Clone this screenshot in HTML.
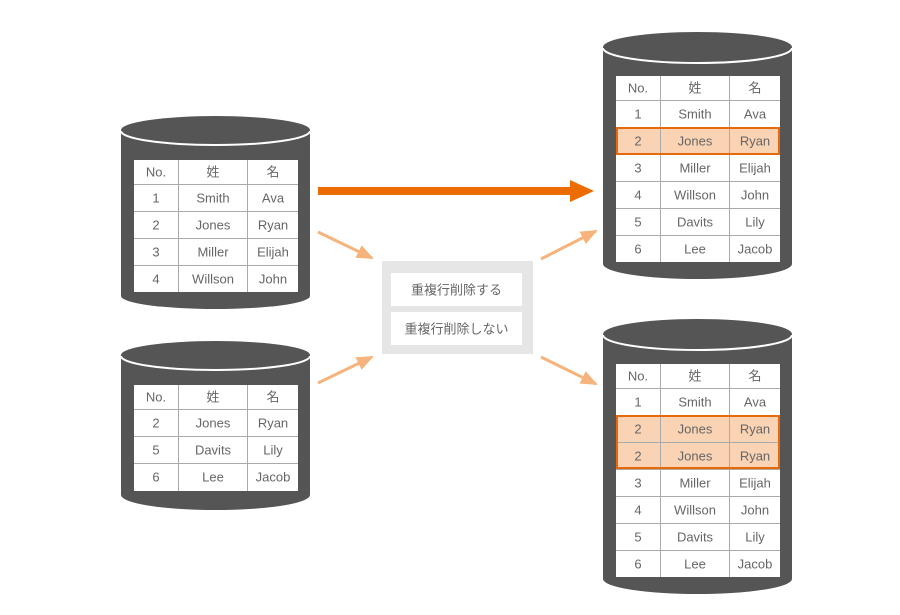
<!DOCTYPE html>
<html><head><meta charset="utf-8"><style>
html,body{margin:0;padding:0;background:#fff;}
svg{display:block;}
text{font-family:"Liberation Sans","Noto Sans CJK JP",sans-serif;font-size:13px;fill:#666;text-anchor:middle;dominant-baseline:central;}
</style></head><body>
<svg width="900" height="615" viewBox="0 0 900 615" xmlns="http://www.w3.org/2000/svg">
<defs>
<marker id="lh" markerWidth="17" markerHeight="14" refX="15" refY="7" orient="auto" markerUnits="userSpaceOnUse"><path d="M0,0 L17,7 L0,14 Z" fill="#f6b47c" stroke="none"/></marker>
</defs>

<!-- Left top cylinder -->
<path d="M121,130 L121,296 A94.5,13 0 0 0 310,296 L310,130 Z" fill="#555"/>
<ellipse cx="215.5" cy="130" rx="94.5" ry="14" fill="#555"/>
<path d="M121,131 A94.5,14 0 0 0 310,131" fill="none" stroke="#fff" stroke-width="2"/>
<g>
<rect x="134" y="160" width="164" height="132" fill="#fff"/>
<g stroke="#aaa" stroke-width="1">
<line x1="134" y1="184.5" x2="298" y2="184.5"/><line x1="134" y1="211.5" x2="298" y2="211.5"/><line x1="134" y1="238.5" x2="298" y2="238.5"/><line x1="134" y1="265.5" x2="298" y2="265.5"/>
<line x1="178.5" y1="160" x2="178.5" y2="292"/><line x1="247.5" y1="160" x2="247.5" y2="292"/>
</g>
<text x="156" y="172">No.</text><text x="213" y="172">姓</text><text x="273" y="172">名</text>
<text x="156" y="198">1</text><text x="213" y="198">Smith</text><text x="273" y="198">Ava</text>
<text x="156" y="225">2</text><text x="213" y="225">Jones</text><text x="273" y="225">Ryan</text>
<text x="156" y="252">3</text><text x="213" y="252">Miller</text><text x="273" y="252">Elijah</text>
<text x="156" y="279">4</text><text x="213" y="279">Willson</text><text x="273" y="279">John</text>
</g>

<!-- Left bottom cylinder -->
<path d="M121,355 L121,495 A94.5,15 0 0 0 310,495 L310,355 Z" fill="#555"/>
<ellipse cx="215.5" cy="355" rx="94.5" ry="14" fill="#555"/>
<path d="M121,356 A94.5,14 0 0 0 310,356" fill="none" stroke="#fff" stroke-width="2"/>
<g>
<rect x="134" y="385" width="164" height="106" fill="#fff"/>
<g stroke="#aaa" stroke-width="1">
<line x1="134" y1="409.5" x2="298" y2="409.5"/><line x1="134" y1="436.5" x2="298" y2="436.5"/><line x1="134" y1="463.5" x2="298" y2="463.5"/>
<line x1="178.5" y1="385" x2="178.5" y2="491"/><line x1="247.5" y1="385" x2="247.5" y2="491"/>
</g>
<text x="156" y="397">No.</text><text x="213" y="397">姓</text><text x="273" y="397">名</text>
<text x="156" y="423">2</text><text x="213" y="423">Jones</text><text x="273" y="423">Ryan</text>
<text x="156" y="450">5</text><text x="213" y="450">Davits</text><text x="273" y="450">Lily</text>
<text x="156" y="477">6</text><text x="213" y="477">Lee</text><text x="273" y="477">Jacob</text>
</g>

<!-- Right top cylinder -->
<path d="M603,47 L603,264 A94.5,15 0 0 0 792,264 L792,47 Z" fill="#555"/>
<ellipse cx="697.5" cy="47" rx="94.5" ry="15" fill="#555"/>
<path d="M603,48 A94.5,15 0 0 0 792,48" fill="none" stroke="#fff" stroke-width="2"/>
<g>
<rect x="616" y="76" width="164" height="186" fill="#fff"/>
<rect x="617" y="128" width="162" height="26" fill="#f9d3b3"/>
<g stroke="#aaa" stroke-width="1">
<line x1="616" y1="100.5" x2="780" y2="100.5"/><line x1="616" y1="127.5" x2="780" y2="127.5"/><line x1="616" y1="154.5" x2="780" y2="154.5"/><line x1="616" y1="181.5" x2="780" y2="181.5"/><line x1="616" y1="208.5" x2="780" y2="208.5"/><line x1="616" y1="235.5" x2="780" y2="235.5"/>
<line x1="660.5" y1="76" x2="660.5" y2="262"/><line x1="729.5" y1="76" x2="729.5" y2="262"/>
</g>
<rect x="617" y="128" width="162" height="26" fill="none" stroke="#e8690a" stroke-width="2"/>
<text x="638" y="88">No.</text><text x="695" y="88">姓</text><text x="755" y="88">名</text>
<text x="638" y="114">1</text><text x="695" y="114">Smith</text><text x="755" y="114">Ava</text>
<text x="638" y="141">2</text><text x="695" y="141">Jones</text><text x="755" y="141">Ryan</text>
<text x="638" y="168">3</text><text x="695" y="168">Miller</text><text x="755" y="168">Elijah</text>
<text x="638" y="195">4</text><text x="695" y="195">Willson</text><text x="755" y="195">John</text>
<text x="638" y="222">5</text><text x="695" y="222">Davits</text><text x="755" y="222">Lily</text>
<text x="638" y="249">6</text><text x="695" y="249">Lee</text><text x="755" y="249">Jacob</text>
</g>

<!-- Right bottom cylinder -->
<path d="M603,334 L603,579 A94.5,15 0 0 0 792,579 L792,334 Z" fill="#555"/>
<ellipse cx="697.5" cy="334" rx="94.5" ry="15" fill="#555"/>
<path d="M603,335 A94.5,15 0 0 0 792,335" fill="none" stroke="#fff" stroke-width="2"/>
<g>
<rect x="616" y="364" width="164" height="213" fill="#fff"/>
<rect x="617" y="416" width="162" height="52" fill="#f9d3b3"/>
<g stroke="#aaa" stroke-width="1">
<line x1="616" y1="388.5" x2="780" y2="388.5"/><line x1="616" y1="415.5" x2="780" y2="415.5"/><line x1="616" y1="442.5" x2="780" y2="442.5"/><line x1="616" y1="469.5" x2="780" y2="469.5"/><line x1="616" y1="496.5" x2="780" y2="496.5"/><line x1="616" y1="523.5" x2="780" y2="523.5"/><line x1="616" y1="550.5" x2="780" y2="550.5"/>
<line x1="660.5" y1="364" x2="660.5" y2="577"/><line x1="729.5" y1="364" x2="729.5" y2="577"/>
</g>
<rect x="617" y="416" width="162" height="52" fill="none" stroke="#e8690a" stroke-width="2"/>
<text x="638" y="376">No.</text><text x="695" y="376">姓</text><text x="755" y="376">名</text>
<text x="638" y="402">1</text><text x="695" y="402">Smith</text><text x="755" y="402">Ava</text>
<text x="638" y="429">2</text><text x="695" y="429">Jones</text><text x="755" y="429">Ryan</text>
<text x="638" y="456">2</text><text x="695" y="456">Jones</text><text x="755" y="456">Ryan</text>
<text x="638" y="483">3</text><text x="695" y="483">Miller</text><text x="755" y="483">Elijah</text>
<text x="638" y="510">4</text><text x="695" y="510">Willson</text><text x="755" y="510">John</text>
<text x="638" y="537">5</text><text x="695" y="537">Davits</text><text x="755" y="537">Lily</text>
<text x="638" y="564">6</text><text x="695" y="564">Lee</text><text x="755" y="564">Jacob</text>
</g>

<!-- Thick arrow -->
<rect x="318" y="187" width="254" height="8" fill="#ec6c00"/>
<path d="M570,180 L594,191 L570,202 Z" fill="#ec6c00"/>

<!-- Light arrows -->
<g stroke="#f6b47c" stroke-width="3" fill="none" marker-end="url(#lh)">
<line x1="318" y1="232" x2="372" y2="258"/>
<line x1="318" y1="383" x2="372" y2="357"/>
<line x1="541" y1="259" x2="596" y2="231"/>
<line x1="541" y1="357" x2="596" y2="384"/>
</g>

<!-- Middle box -->
<rect x="382" y="261" width="151" height="93" fill="#e6e6e6"/>
<rect x="391" y="273" width="131" height="33" fill="#fff"/>
<rect x="391" y="312" width="131" height="33" fill="#fff"/>
<text x="456.5" y="290">重複行削除する</text>
<text x="456.5" y="329">重複行削除しない</text>
</svg>
</body></html>
